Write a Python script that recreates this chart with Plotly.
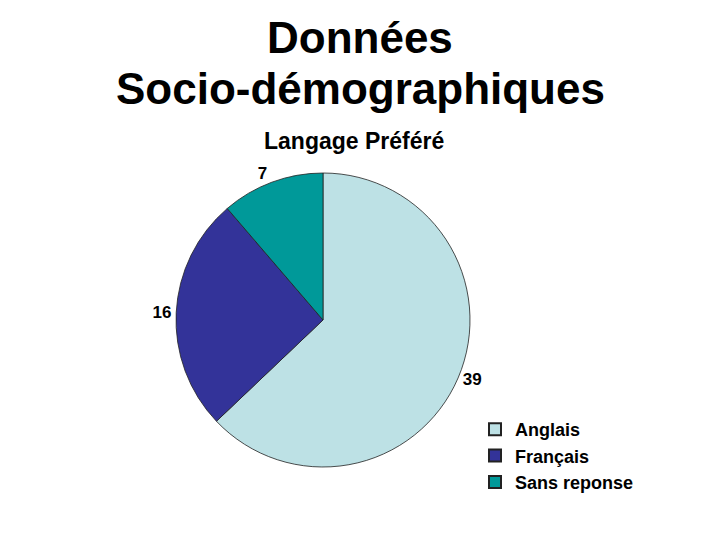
import plotly.graph_objects as go

categories = ["Anglais", "Français", "Sans reponse"]
values = [39, 16, 7]
colors = ["#BDE1E5", "#333399", "#009999"]

fig = go.Figure(go.Pie(
    labels=categories,
    values=values,
    sort=False,
    direction="clockwise",
    rotation=0,
    marker=dict(colors=colors, line=dict(color="#222222", width=0.8)),
    textposition="outside",
    texttemplate="%{value}",
    textfont=dict(family="Liberation Sans, Arial, sans-serif", size=17, color="black", weight="bold"),
    domain=dict(x=[176/720, 470/720], y=[1-467/540, 1-173/540]),
    hoverinfo="label+value",
))

fig.update_layout(
    width=720, height=540,
    margin=dict(l=0, r=0, t=0, b=0),
    paper_bgcolor="white",
    font=dict(family="Liberation Sans, Arial, sans-serif", color="black"),
    showlegend=True,
    legend=dict(
        x=475/720, y=1-411/540, xanchor="left", yanchor="top",
        font=dict(size=18, weight="bold"),
        itemsizing="constant",
        tracegroupgap=0,
    ),
    annotations=[
        dict(text="Données", x=0.5, y=1-37/540, xref="paper", yref="paper",
             xanchor="center", yanchor="middle", showarrow=False,
             font=dict(size=44, weight="bold")),
        dict(text="Socio-démographiques", x=0.5, y=1-88/540, xref="paper", yref="paper",
             xanchor="center", yanchor="middle", showarrow=False,
             font=dict(size=44, weight="bold")),
        dict(text="Langage Préféré", x=354/720, y=1-141/540, xref="paper", yref="paper",
             xanchor="center", yanchor="middle", showarrow=False,
             font=dict(size=23, weight="bold")),
    ],
)

fig.write_html("out.html")
